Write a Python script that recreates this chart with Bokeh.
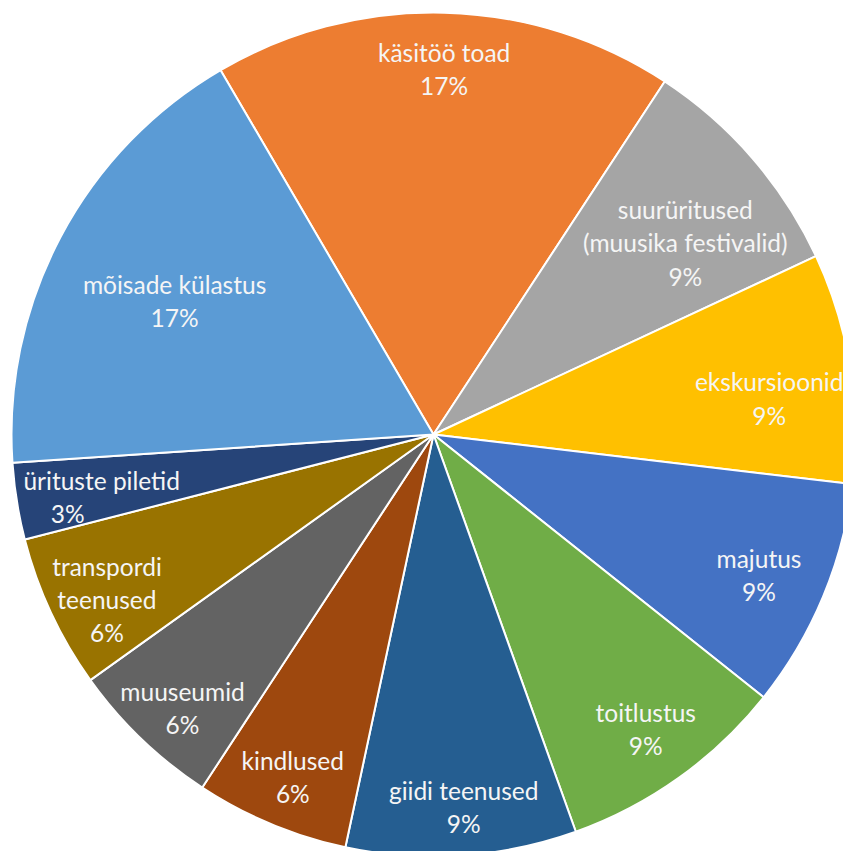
import math
from bokeh.plotting import figure
from bokeh.models import Range1d, ColumnDataSource
from bokeh.core.properties import value
from bokeh.embed import file_html
from bokeh.resources import INLINE

# Slices in clockwise order starting from the käsitöö toad slice
categories = ["käsitöö toad", "suurüritused\n(muusika festivalid)", "ekskursioonid",
              "majutus", "toitlustus", "giidi teenused", "kindlused", "muuseumid",
              "transpordi\nteenused", "ürituste piletid", "mõisade külastus"]
counts = [6, 3, 3, 3, 3, 3, 2, 2, 2, 1, 6]
pct_labels = ["17%", "9%", "9%", "9%", "9%", "9%", "6%", "6%", "6%", "3%", "17%"]
colors = ["#ED7D31", "#A5A5A5", "#FFC000", "#4472C4", "#70AD47", "#255E91",
          "#9E480E", "#636363", "#997300", "#264478", "#5B9BD5"]

# layout / style
W, H = 843, 851
CX, CY = 433, H - 434
R = 422
START_CW = -30.3  # degrees clockwise from 12 o'clock where first slice starts
label_r = [0.867, 0.75, 0.80, 0.84, 0.86, 0.886, 0.877, 0.88, 0.867, 0.80, 0.69]
label_dtheta = [0.2, 3.6, 3.0, 0.7, -0.2, -0.8, -0.3, -1.3, -1.8, -1.5, -0.7]
pct_dx = [0, 0, 0, 0, 0, 0, 0, 0, 0, -34, 0]

NBSP = "\u00a0"
total = float(sum(counts))
starts, ends, lx, ly, px, name_txt, pct_txt = [], [], [], [], [], [], []
acc = START_CW
for i, c in enumerate(counts):
    span = 360.0 * c / total
    s_cw, e_cw = acc, acc + span
    acc = e_cw
    starts.append(math.radians(90 - s_cw))
    ends.append(math.radians(90 - e_cw))
    mid = math.radians((s_cw + e_cw) / 2 + label_dtheta[i])
    x = CX + label_r[i] * R * math.sin(mid)
    lx.append(x)
    px.append(x + pct_dx[i])
    ly.append(CY + label_r[i] * R * math.cos(mid))
    n = categories[i].count("\n") + 1
    name_txt.append(categories[i] + "\n" + NBSP)
    pct_txt.append((NBSP + "\n") * n + pct_labels[i])

src = ColumnDataSource(dict(start=starts, end=ends, color=colors,
                            x=[CX] * len(counts), y=[CY] * len(counts)))
nsrc = ColumnDataSource(dict(x=lx, y=ly, text=name_txt))
psrc = ColumnDataSource(dict(x=px, y=ly, text=pct_txt))

p = figure(width=W, height=H, x_range=Range1d(0, W), y_range=Range1d(0, H),
           output_backend="svg", toolbar_location=None, min_border=0)
p.axis.visible = False
p.grid.visible = False
p.outline_line_color = None
p.background_fill_color = "white"
p.border_fill_color = "white"

p.wedge(x="x", y="y", radius=R, start_angle="start", end_angle="end",
        direction="clock", fill_color="color", line_color="white", line_width=2,
        source=src)

common = dict(text_align="center", text_baseline="middle", text_color="#F5F5F5",
              text_font=value("Lato"), text_font_size="24.5px", text_line_height=1.15)
p.text(x="x", y="y", text="text", source=nsrc, **common)
p.text(x="x", y="y", text="text", source=psrc, **common)

open("out.html", "w").write(file_html(p, INLINE))
